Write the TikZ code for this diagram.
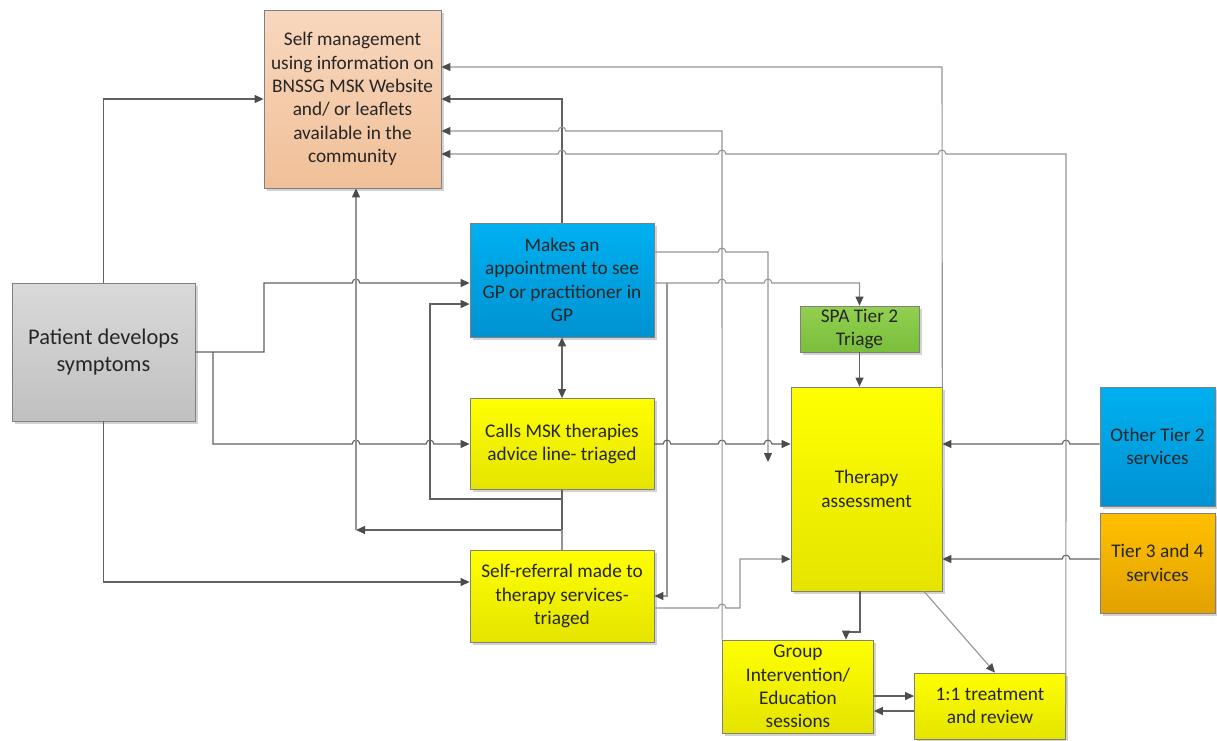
\documentclass[tikz,border=0pt]{standalone}
\usepackage{fontspec}
\setmainfont{Carlito}
\usetikzlibrary{arrows.meta,shadows}
\newcommand\hp[2]{-- (#1-3.8,#2) .. controls (#1-3.8,#2-5.2) and (#1+3.8,#2-5.2) .. (#1+3.8,#2)}
\newcommand\hpl[2]{-- (#1+3.8,#2) .. controls (#1+3.8,#2-5.2) and (#1-3.8,#2-5.2) .. (#1-3.8,#2)}
\definecolor{smtop}{RGB}{248,215,190}
\definecolor{smbot}{RGB}{240,192,152}
\definecolor{pdtop}{RGB}{217,217,217}
\definecolor{pdbot}{RGB}{192,192,192}
\definecolor{bltop}{RGB}{0,176,240}
\definecolor{blbot}{RGB}{0,146,210}
\definecolor{yltop}{RGB}{255,255,0}
\definecolor{ylbot}{RGB}{228,228,0}
\definecolor{grtop}{RGB}{146,208,80}
\definecolor{grbot}{RGB}{122,190,60}
\definecolor{ortop}{RGB}{255,192,0}
\definecolor{orbot}{RGB}{226,162,0}
\begin{document}
\begin{tikzpicture}[x=1pt,y=-1pt,
  box/.style={draw=black!50, line width=0.8pt, align=center, inner sep=0pt,
    font=\fontsize{19.3}{23.3}\selectfont, text=black!85,
    drop shadow={shadow xshift=2.5pt,shadow yshift=-2.5pt,fill=black!35,opacity=0.5}},
  smbox/.style={box, top color=smtop, bottom color=smbot},
  pdbox/.style={box, top color=pdtop, bottom color=pdbot},
  blbox/.style={box, top color=bltop, bottom color=blbot},
  ylbox/.style={box, top color=yltop, bottom color=ylbot},
  grbox/.style={box, top color=grtop, bottom color=grbot},
  orbox/.style={box, top color=ortop, bottom color=orbot},
  dk/.style={draw=black!62, line width=1.1pt},
  lt/.style={draw=black!42, line width=1.1pt},
  arr/.style={-{Triangle[length=9pt,width=8pt,color=black!70]}},
  darr/.style={{Triangle[length=9pt,width=8pt,color=black!70]}-{Triangle[length=9pt,width=8pt,color=black!70]}}
]
\useasboundingbox (0,0) rectangle (1217,740);
\fill[white] (0,0) rectangle (1217,740);

% nodes
\node[smbox, minimum width=177pt, minimum height=178pt] (SM) at (352.5,99)
  {Self management\\using information on\\BNSSG MSK Website\\and/ or leaflets\\available in the\\community};
\node[pdbox, minimum width=183pt, minimum height=138pt, font=\fontsize{22.4}{27}\selectfont] (PD) at (103.5,352)
  {Patient develops\\symptoms};
\node[blbox, minimum width=184pt, minimum height=114pt] (GP) at (562,280)
  {Makes an\\appointment to see\\GP or practitioner in\\GP};
\node[ylbox, minimum width=184pt, minimum height=91pt] (CALL) at (562,444)
  {Calls MSK therapies\\advice line- triaged};
\node[ylbox, minimum width=184pt, minimum height=92pt] (SR) at (562,596)
  {Self-referral made to\\therapy services-\\triaged};
\node[grbox, minimum width=119pt, minimum height=46pt] (SPA) at (859.5,329)
  {SPA Tier 2\\Triage};
\node[ylbox, minimum width=151pt, minimum height=204pt] (TA) at (866.5,489)
  {Therapy\\assessment};
\node[blbox, minimum width=115pt, minimum height=119pt] (OT) at (1157.5,446.5)
  {Other Tier 2\\services};
\node[orbox, minimum width=115pt, minimum height=100pt] (T34) at (1157.5,563)
  {Tier 3 and 4\\services};
\node[ylbox, minimum width=151pt, minimum height=93pt] (GRP) at (798,686.5)
  {Group\\Intervention/\\Education\\sessions};
\node[ylbox, minimum width=151pt, minimum height=66pt] (ONE) at (990,706)
  {1:1 treatment\\and review};

% helper coordinates (free ends / entry points)
\coordinate (gp283) at (GP.west |- 0,283);
\coordinate (gp304) at (GP.west |- 0,304);
\coordinate (sr582) at (SR.west |- 0,582);
\coordinate (sm188) at (SM.south -| 356,0);
\coordinate (gpe252) at (GP.east |- 0,252);
\coordinate (gpe283) at (GP.east |- 0,283);
\coordinate (free768) at (768,462);
\coordinate (tw444) at (TA.west |- 0,444);
\coordinate (tw559) at (TA.west |- 0,559);
\coordinate (te444) at (TA.east |- 0,444);
\coordinate (te559) at (TA.east |- 0,559);
\coordinate (ow444) at (OT.west |- 0,444);
\coordinate (t34w559) at (T34.west |- 0,559);
\coordinate (sre608) at (SR.east |- 0,608);
\coordinate (ts860) at (TA.south -| 860,0);
\coordinate (ts924) at (TA.south -| 924,0);
\coordinate (gn846) at (GRP.north -| 846,0);
\coordinate (on995) at (ONE.north -| 995,0);
\coordinate (ge696) at (GRP.east |- 0,696);
\coordinate (ge711) at (GRP.east |- 0,711);
\coordinate (ow696) at (ONE.west |- 0,696);
\coordinate (ow711) at (ONE.west |- 0,711);
\coordinate (sme67) at (SM.east |- 0,67);
\coordinate (sme131) at (SM.east |- 0,131);
\coordinate (sme154) at (SM.east |- 0,154);

% connectors
\draw[dk,arr] (PD.north) |- (SM.west);
\draw[dk,arr] (PD.east) -- (264,352) -- (264,283) \hp{356}{283} -- (gp283);
\draw[dk,arr] (213,352) -- (213,444) \hp{356}{444} \hp{430}{444} -- (CALL.west);
\draw[dk,arr] (PD.south) |- (sr582);
\draw[dk,arr] (CALL.south) -- (562,499) -- (430,499) -- (430,304) -- (gp304);
\draw[dk,arr] (CALL.south) -- (562,530) -- (356,530);
\draw[lt] (SR.north) -- (562,530);
\draw[lt,arr] (356,530) -- (sm188);
\draw[dk,arr] (GP.north) |- (SM.east);
\draw[dk,darr] (GP.south) -- (CALL.north);
\draw[lt,arr] (gpe252) \hp{722}{252} -- (768,252) -- (free768);
\draw[lt,arr] (gpe283) \hp{722}{283} \hp{768}{283} -- (859.5,283) -- (SPA.north);
\draw[lt,arr] (667,283) -- (667,596) -- (SR.east);
\draw[dk,arr] (SPA.south) -- (SPA.south |- TA.north);
\draw[dk,arr] (CALL.east) \hp{667}{444} \hp{722}{444} \hp{768}{444} -- (tw444);
\draw[lt,arr] (sre608) \hp{722}{608} -- (740,608) -- (740,559) -- (tw559);
\draw[dk,arr] (ow444) \hpl{1066}{444} -- (te444);
\draw[dk,arr] (t34w559) \hpl{1066}{559} -- (te559);
\draw[dk,arr] (ts860) -- (860,632) -- (846,632) -- (gn846);
\draw[lt,arr] (ts924) -- (on995);
\draw[dk,arr] (ge696) -- (ow696);
\draw[dk,arr] (ow711) -- (ge711);
\draw[lt,arr] (TA.east) -- (942,67) -- (sme67);
\draw[lt,arr] (GRP.north west) -- (722,131) \hpl{562}{131} -- (sme131);
\draw[lt,arr] (ONE.east) -- (1066,154) \hpl{942}{154} \hpl{722}{154} \hpl{562}{154} -- (sme154);
\end{tikzpicture}
\end{document}
